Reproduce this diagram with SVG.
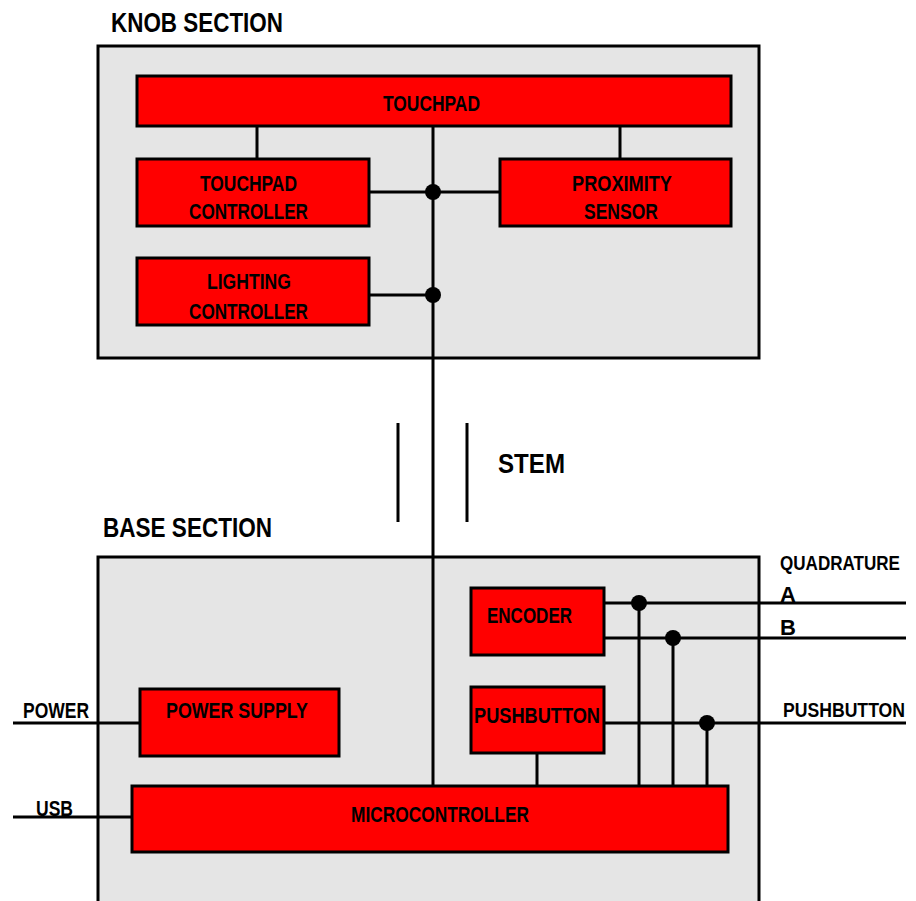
<svg xmlns="http://www.w3.org/2000/svg" width="916" height="901" viewBox="0 0 916 901">
<style>
.sec{fill:#e5e5e5;stroke:#000;stroke-width:3}
.blk{fill:#ff0000;stroke:#000;stroke-width:3}
.w{fill:none;stroke:#000;stroke-width:3}
.dot{fill:#000}
text{font-family:"Liberation Sans","DejaVu Sans",sans-serif;font-weight:bold;fill:#000;font-size:22px}
.h{font-size:28px}
.n{font-size:17px}
</style>
<rect width="916" height="901" fill="#fff"/>
<g id="knob-section">
<rect class="sec" x="98" y="46" width="661" height="312"/>
<text class="h" x="111" y="32" textLength="172" lengthAdjust="spacingAndGlyphs">KNOB SECTION</text>
</g>
<g id="base-section">
<path class="sec" d="M98,910 V557 H759 V910"/>
<text class="h" x="103" y="537" textLength="169" lengthAdjust="spacingAndGlyphs">BASE SECTION</text>
</g>
<g id="connectors">
<path class="w" d="M257,126 V159 M620,126 V159 M433,126 V786 M369,192 H500 M369,295 H433"/>
<path class="w" d="M398,423 V522 M467,423 V522"/>
<path class="w" d="M604,603 H906 M604,638 H906 M604,723 H906 M639,603 V786 M673,638 V786 M707,723 V786 M537,753 V786"/>
<path class="w" d="M13,723 H140 M13,817 H132"/>
<circle class="dot" cx="433" cy="192" r="8"/>
<circle class="dot" cx="433" cy="295" r="8"/>
<circle class="dot" cx="639" cy="603" r="8"/>
<circle class="dot" cx="673" cy="638" r="8"/>
<circle class="dot" cx="707" cy="723" r="8"/>
</g>
<g id="touchpad">
<rect class="blk" x="137" y="76" width="594" height="50"/>
<text x="383" y="111" textLength="97" lengthAdjust="spacingAndGlyphs">TOUCHPAD</text>
</g>
<g id="touchpad-controller">
<rect class="blk" x="137" y="159" width="232" height="67"/>
<text x="200" y="191" textLength="97" lengthAdjust="spacingAndGlyphs">TOUCHPAD</text>
<text x="189" y="219" textLength="119" lengthAdjust="spacingAndGlyphs">CONTROLLER</text>
</g>
<g id="proximity-sensor">
<rect class="blk" x="500" y="159" width="231" height="67"/>
<text x="572" y="191" textLength="100" lengthAdjust="spacingAndGlyphs">PROXIMITY</text>
<text x="584" y="219" textLength="74" lengthAdjust="spacingAndGlyphs">SENSOR</text>
</g>
<g id="lighting-controller">
<rect class="blk" x="137" y="258" width="232" height="67"/>
<text x="207" y="289" textLength="84" lengthAdjust="spacingAndGlyphs">LIGHTING</text>
<text x="189" y="319" textLength="119" lengthAdjust="spacingAndGlyphs">CONTROLLER</text>
</g>
<g id="stem">
<text class="h" x="498" y="473" textLength="67" lengthAdjust="spacingAndGlyphs">STEM</text>
</g>
<g id="encoder">
<rect class="blk" x="471" y="588" width="133" height="67"/>
<text x="487" y="623" textLength="85" lengthAdjust="spacingAndGlyphs">ENCODER</text>
</g>
<g id="pushbutton">
<rect class="blk" x="471" y="687" width="133" height="66"/>
<text x="474" y="723" textLength="126" lengthAdjust="spacingAndGlyphs">PUSHBUTTON</text>
</g>
<g id="power-supply">
<rect class="blk" x="140" y="689" width="199" height="67"/>
<text x="166" y="718" textLength="142" lengthAdjust="spacingAndGlyphs">POWER SUPPLY</text>
</g>
<g id="microcontroller">
<rect class="blk" x="132" y="786" width="596" height="66"/>
<text x="351" y="822" textLength="178" lengthAdjust="spacingAndGlyphs">MICROCONTROLLER</text>
</g>
<g id="io-labels">
<text class="n" transform="translate(780,570) scale(1,1.23)" x="0" y="0" textLength="120" lengthAdjust="spacingAndGlyphs">QUADRATURE</text>
<text x="780" y="602">A</text>
<text x="780" y="635">B</text>
<text class="n" transform="translate(783,717) scale(1,1.23)" x="0" y="0" textLength="122" lengthAdjust="spacingAndGlyphs">PUSHBUTTON</text>
<text x="23" y="718" textLength="66" lengthAdjust="spacingAndGlyphs">POWER</text>
<text x="36" y="816" textLength="37" lengthAdjust="spacingAndGlyphs">USB</text>
</g>
</svg>
